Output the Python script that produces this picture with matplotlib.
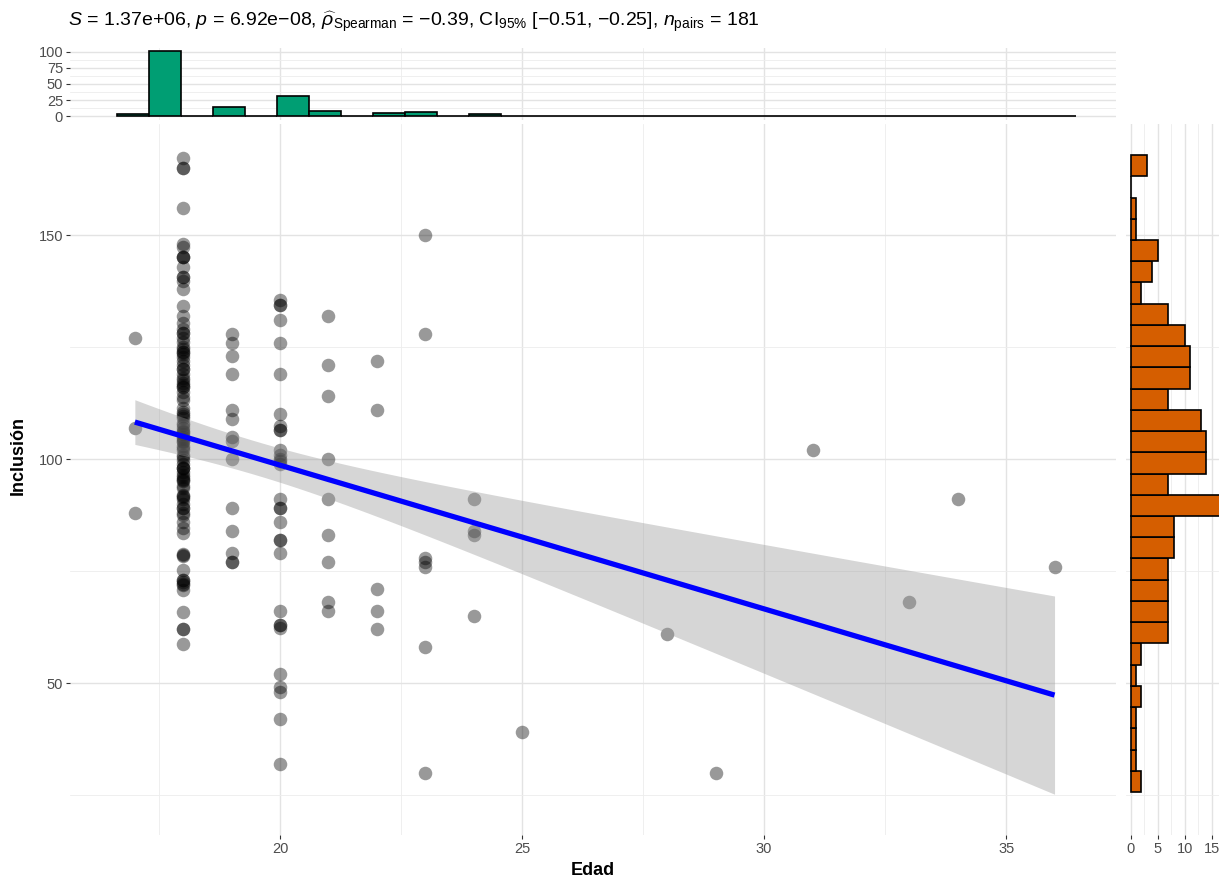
import numpy as np
import matplotlib
matplotlib.use("Agg")
import matplotlib.pyplot as plt

plt.rcParams['font.family'] = ['Liberation Sans', 'DejaVu Sans']
plt.rcParams['mathtext.fontset'] = 'custom'
plt.rcParams['mathtext.rm'] = 'Liberation Sans'
plt.rcParams['mathtext.it'] = 'Liberation Sans:italic'

ages = [17, 18, 19, 20, 21, 22, 23, 24, 25, 28, 29, 31, 33, 34, 36]
inclusion_by_age = [
    [127, 107, 88],
    [58.8, 62, 62, 65.9, 70.8, 71.9, 72.5, 73, 73, 72, 75.2, 78.3, 78.5, 78.9,
     83.4, 84.5, 86, 87.5, 88, 89, 89, 90, 91, 91.5, 91.8, 92,
     93.5, 94, 95, 95.3, 95.5, 96, 96.5, 97, 97.9, 97.9, 98, 99, 99.8, 100.5, 101,
     102, 102.5, 103, 103.9, 104, 104.5, 105, 105.7, 106, 106.2,
     107, 107.6, 108, 109.1, 109.5, 110, 110.5, 111.3, 113.2, 113.9, 115,
     116, 116.1, 116.5, 117, 117.6, 118, 119, 120, 120.2,
     121, 122, 122.8, 123.5, 124, 124, 124.5, 125, 126.2, 127, 128.2, 128.2, 129,
     130.3, 131.9, 134.2, 137.9, 139.8, 140.7, 140.7, 142.9,
     145, 145, 145, 147.3, 148.1, 156, 164.9, 164.9, 167.1],
    [128, 126, 123, 119, 111, 109, 105, 104, 100, 89, 84, 79, 77, 77],
    [135.6, 134.5, 134.5, 131, 126, 119, 110, 107.4, 106.5, 106.5, 102, 101, 100,
     99.5, 99, 91, 89, 89, 86, 82, 82, 79, 66, 63, 63, 62.3, 52, 49, 48, 42, 32],
    [132, 121, 114, 100, 91, 83, 77, 68, 66],
    [122, 111, 71, 66, 62],
    [150, 128, 78, 77, 76, 58, 30],
    [91, 84, 83, 65],
    [39], [61], [30], [102], [68], [91], [76],
]

# marginal histograms (30 bins each)
top_counts = [3, 101, 0, 14, 0, 31, 9, 0, 5, 7, 0, 4, 1, 0, 0,
              0, 0, 1, 1, 0, 0, 1, 0, 0, 1, 0, 1, 0, 0, 1]
top_start, top_width = 16.64, 0.66
right_counts = [2, 1, 1, 1, 2, 1, 2, 7, 7, 7, 7, 8, 8, 17, 7,
                14, 14, 13, 7, 11, 11, 10, 7, 2, 4, 5, 1, 1, 0, 3]
right_start, right_width = 25.67, 4.74

subtitle = (r"$\mathit{S}$ = 1.37e+06, $\mathit{p}$ = 6.92e−08, "
            r"$\widehat{\rho}_{\mathrm{Spearman}}$ = −0.39, "
            r"$\mathrm{CI}_{95\%}$ [−0.51, −0.25], $\mathit{n}_{\mathrm{pairs}}$ = 181")

x = np.concatenate([[a] * len(v) for a, v in zip(ages, inclusion_by_age)]).astype(float)
y = np.concatenate([np.array(v, dtype=float) for v in inclusion_by_age])

W, H = 1219, 880
fig = plt.figure(figsize=(W / 100, H / 100), dpi=100)


def px_axes(l, t, r, b):
    return fig.add_axes([l / W, 1 - b / H, (r - l) / W, (b - t) / H])


def style(a):
    for s in a.spines.values():
        s.set_visible(False)
    a.set_axisbelow(True)
    a.grid(True, which='major', color='#E3E3E3', lw=1.0)
    a.grid(True, which='minor', color='#EDEDED', lw=0.6)
    a.tick_params(which='major', length=3, width=0.8, color='#333333',
                  labelcolor='#4D4D4D', labelsize=10.5, pad=2)
    a.tick_params(which='minor', length=0)


ax = px_axes(70, 124, 1116, 835)
axt = px_axes(70, 47.7, 1116, 119.6)
axr = px_axes(1126, 124, 1227, 835)
for a in (ax, axt, axr):
    style(a)

# main scatter
ax.scatter(x, y, s=95, c='black', alpha=0.4, linewidths=0, zorder=2)

# linear fit with 95% CI
b1, b0 = np.polyfit(x, y, 1)
n = len(x)
resid = y - (b0 + b1 * x)
s = np.sqrt(np.sum(resid ** 2) / (n - 2))
sxx = np.sum((x - x.mean()) ** 2)
xs = np.linspace(x.min(), x.max(), 80)
yhat = b0 + b1 * xs
se = s * np.sqrt(1 / n + (xs - x.mean()) ** 2 / sxx)
t = 1.973
ax.fill_between(xs, yhat - t * se, yhat + t * se, color='#999999', alpha=0.4, lw=0, zorder=3)
ax.plot(xs, yhat, color='#0000FF', lw=3.8, zorder=4, solid_capstyle='butt')

ax.set_xlim(15.66, 37.27)
ax.set_ylim(16.07, 174.8)
ax.set_xticks([20, 25, 30, 35])
ax.set_xticks([17.5, 22.5, 27.5, 32.5], minor=True)
ax.set_yticks([50, 100, 150])
ax.set_yticks([25, 75, 125], minor=True)
ax.set_xlabel('Edad', fontweight='bold', fontsize=13, labelpad=4)
fig.text(18 / W, 1 - 455 / H, 'Inclusión', rotation=90, fontweight='bold',
         fontsize=13, ha='center', va='center')

# top histogram
edges_t = top_start + top_width * np.arange(len(top_counts))
axt.bar(edges_t, top_counts, width=top_width, align='edge', color='#009E73',
        edgecolor='black', lw=1.2, zorder=2)
axt.set_xlim(ax.get_xlim())
axt.set_ylim(-5.05, 106)
axt.set_xticks([20, 25, 30, 35])
axt.set_xticks([17.5, 22.5, 27.5, 32.5], minor=True)
axt.tick_params(axis='x', which='both', length=0, labelbottom=False)
axt.set_yticks([0, 25, 50, 75, 100])
axt.set_yticks([12.5, 37.5, 62.5, 87.5], minor=True)

# right histogram
edges_r = right_start + right_width * np.arange(len(right_counts))
axr.barh(edges_r, right_counts, height=right_width, align='edge', color='#D55E00',
         edgecolor='black', lw=1.2, zorder=2)
axr.set_ylim(ax.get_ylim())
axr.set_xlim(-0.85, 17.85)
axr.set_xticks([0, 5, 10, 15])
axr.set_xticks([2.5, 7.5, 12.5], minor=True)
axr.set_yticks([50, 100, 150])
axr.set_yticks([25, 75, 125], minor=True)
axr.tick_params(axis='y', which='both', length=0, labelleft=False)

fig.text(68 / W, 1 - 22 / H, subtitle, fontsize=14, ha='left', va='center', color='black')

fig.savefig('out.png', dpi=100)
